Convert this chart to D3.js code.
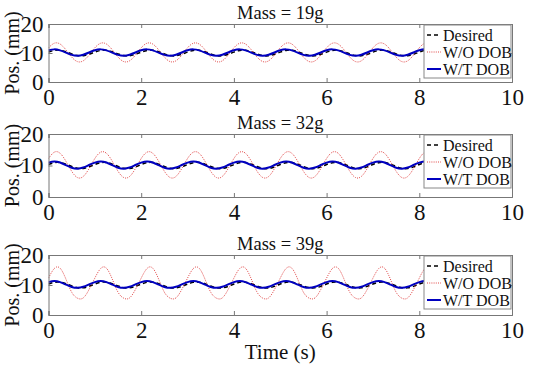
<!DOCTYPE html>
<html><head><meta charset="utf-8">
<script src="https://cdn.jsdelivr.net/npm/d3@7"></script>
<style>body{margin:0;background:#fff}svg{display:block}</style>
</head><body>
<svg id="c" width="533" height="368" font-family="Liberation Serif"></svg>
<script>
// ---- data (0.125 s sampling) ----
const titles = ["Mass = 19g", "Mass = 32g", "Mass = 39g"];
const seriesNames = ["Desired", "W/O DOB", "W/T DOB"];
const xTicks = [0, 2, 4, 6, 8, 10];
const yTicks = [0, 10, 20];
const timeStep = 0.125;

const desired = [10.31,10.89,10.95,10.45,9.69,9.11,9.05,9.55, 10.31,10.89,10.95,10.45,9.69,9.11,9.05,9.55, 10.31,10.89,10.95,10.45,9.69,9.11,9.05,9.55, 10.31,10.89,10.95,10.45,9.69,9.11,9.05,9.55, 10.31,10.89,10.95,10.45,9.69,9.11,9.05,9.55, 10.31,10.89,10.95,10.45,9.69,9.11,9.05,9.55, 10.31,10.89,10.95,10.45,9.69,9.11,9.05,9.55, 10.31,10.89,10.95,10.45,9.69,9.11,9.05,9.55, 10.31,10.89,10.95];

const woDob19 = [11.79,13.37,13.09,11.12,8.61,7.03,7.31,9.28, 11.79,13.37,13.09,11.12,8.61,7.03,7.31,9.28, 11.79,13.37,13.09,11.12,8.61,7.03,7.31,9.28, 11.79,13.37,13.09,11.12,8.61,7.03,7.31,9.28, 11.79,13.37,13.09,11.12,8.61,7.03,7.31,9.28, 11.79,13.37,13.09,11.12,8.61,7.03,7.31,9.28, 11.79,13.37,13.09,11.12,8.61,7.03,7.31,9.28, 11.79,13.37,13.09,11.12,8.61,7.03,7.31,9.28, 11.79,13.37,13.09];
const wtDob19 = [10.95,11.25,10.90,10.12,9.35,9.05,9.40,10.18, 10.95,11.25,10.90,10.12,9.35,9.05,9.40,10.18, 10.95,11.25,10.90,10.12,9.35,9.05,9.40,10.18, 10.95,11.25,10.90,10.12,9.35,9.05,9.40,10.18, 10.95,11.25,10.90,10.12,9.35,9.05,9.40,10.18, 10.95,11.25,10.90,10.12,9.35,9.05,9.40,10.18, 10.95,11.25,10.90,10.12,9.35,9.05,9.40,10.18, 10.95,11.25,10.90,10.12,9.35,9.05,9.40,10.18, 10.95,11.25,10.90];

const woDob32 = [12.22,14.23,13.88,11.37,8.18,6.17,6.52,9.03, 12.22,14.23,13.88,11.37,8.18,6.17,6.52,9.03, 12.22,14.23,13.88,11.37,8.18,6.17,6.52,9.03, 12.22,14.23,13.88,11.37,8.18,6.17,6.52,9.03, 12.22,14.23,13.88,11.37,8.18,6.17,6.52,9.03, 12.22,14.23,13.88,11.37,8.18,6.17,6.52,9.03, 12.22,14.23,13.88,11.37,8.18,6.17,6.52,9.03, 12.22,14.23,13.88,11.37,8.18,6.17,6.52,9.03, 12.22,14.23,13.88];
const wtDob32 = [10.90,11.30,10.95,10.10,9.30,9.00,9.35,10.15, 10.90,11.30,10.95,10.10,9.30,9.00,9.35,10.15, 10.90,11.30,10.95,10.10,9.30,9.00,9.35,10.15, 10.90,11.30,10.95,10.10,9.30,9.00,9.35,10.15, 10.90,11.30,10.95,10.10,9.30,9.00,9.35,10.15, 10.90,11.30,10.95,10.10,9.30,9.00,9.35,10.15, 10.90,11.30,10.95,10.10,9.30,9.00,9.35,10.15, 10.90,11.30,10.95,10.10,9.30,9.00,9.35,10.15, 10.90,11.30,10.95];

const woDob39 = [12.3,15.5,15.6,12.0,7.6,5.6,5.7,8.5, 12.3,15.5,15.6,12.0,7.6,5.6,5.7,8.5, 12.3,15.5,15.6,12.0,7.6,5.6,5.7,8.5, 12.3,15.5,15.6,12.0,7.6,5.6,5.7,8.5, 12.3,15.5,15.6,12.0,7.6,5.6,5.7,8.5, 12.3,15.5,15.6,12.0,7.6,5.6,5.7,8.5, 12.3,15.5,15.6,12.0,7.6,5.6,5.7,8.5, 12.3,15.5,15.6,12.0,7.6,5.6,5.7,8.5, 12.3,15.5,15.6];
const wtDob39 = [10.95,11.30,10.95,10.15,9.35,9.05,9.40,10.20, 10.95,11.30,10.95,10.15,9.35,9.05,9.40,10.20, 10.95,11.30,10.95,10.15,9.35,9.05,9.40,10.20, 10.95,11.30,10.95,10.15,9.35,9.05,9.40,10.20, 10.95,11.30,10.95,10.15,9.35,9.05,9.40,10.20, 10.95,11.30,10.95,10.15,9.35,9.05,9.40,10.20, 10.95,11.30,10.95,10.15,9.35,9.05,9.40,10.20, 10.95,11.30,10.95,10.15,9.35,9.05,9.40,10.20, 10.95,11.30,10.95];

const panels = [
  {title: titles[0], wo: woDob19, wt: wtDob19},
  {title: titles[1], wo: woDob32, wt: wtDob32},
  {title: titles[2], wo: woDob39, wt: wtDob39}
];

// ---- layout ----
const svg = d3.select("#c");
const FONT = "Liberation Serif";
const left = 48.5, right = 512;
const boxes = [[24, 82], [134, 197], [255, 315]];
const x = d3.scaleLinear().domain([0, 10]).range([left, right]);
const colors = {des: "#000000", wo: "#e04848", wt: "#0000c0"};

panels.forEach((p, i) => {
  const [top, bottom] = boxes[i];
  const y = d3.scaleLinear().domain([0, 20]).range([bottom, top]);
  const g = svg.append("g");
  const clipId = "clip" + i;
  svg.append("clipPath").attr("id", clipId).append("rect")
    .attr("x", left).attr("y", top).attr("width", right - left).attr("height", bottom - top);

  const line = d3.line().x((d, k) => x(k * timeStep)).y(d => y(d)).curve(d3.curveNatural);
  const lines = g.append("g").attr("clip-path", `url(#${clipId})`);
  lines.append("path").datum(desired).attr("d", line).attr("fill", "none")
    .attr("stroke", colors.des).attr("stroke-width", 1.5).attr("stroke-dasharray", "4,3");
  lines.append("path").datum(p.wo).attr("d", line).attr("fill", "none")
    .attr("stroke", colors.wo).attr("stroke-width", 1).attr("stroke-dasharray", "1,1.2");
  lines.append("path").datum(p.wt).attr("d", line).attr("fill", "none")
    .attr("stroke", colors.wt).attr("stroke-width", 2);

  // axes (box, inward ticks)
  const axColor = "#777";
  const xb = g.append("g").attr("transform", `translate(0,${bottom})`)
    .call(d3.axisBottom(x).tickValues(xTicks).tickSize(-4).tickPadding(7).tickFormat(d3.format("d")));
  const xt = g.append("g").attr("transform", `translate(0,${top})`)
    .call(d3.axisTop(x).tickValues(xTicks).tickSize(-4).tickFormat(""));
  const yl = g.append("g").attr("transform", `translate(${left},0)`)
    .call(d3.axisLeft(y).tickValues(yTicks).tickSize(-4).tickPadding(5));
  const yr = g.append("g").attr("transform", `translate(${right},0)`)
    .call(d3.axisRight(y).tickValues(yTicks).tickSize(-4).tickFormat(""));
  [xb, xt, yl, yr].forEach(a => {
    a.attr("font-family", FONT);
    a.select(".domain").attr("stroke", axColor);
    a.selectAll(".tick line").attr("stroke", axColor);
    a.selectAll("text").attr("font-family", FONT).attr("font-size", 23).attr("fill", "#111");
  });

  // title
  g.append("text").attr("x", (left + right) / 2).attr("y", top - 5)
    .attr("text-anchor", "middle").attr("font-family", FONT).attr("font-size", 18.5)
    .attr("fill", "#111").text(p.title);

  // y label
  g.append("text").attr("transform", `translate(19,${(top + bottom) / 2}) rotate(-90)`)
    .attr("text-anchor", "middle").attr("font-family", FONT).attr("font-size", 20)
    .attr("fill", "#111").text("Pos. (mm)");

  // legend
  const lx = 424, ly = top + 1, lw = right - lx - 1, lh = 53;
  const lg = g.append("g");
  lg.append("rect").attr("x", lx).attr("y", ly).attr("width", lw).attr("height", lh)
    .attr("fill", "#fff").attr("stroke", "#888").attr("stroke-width", 1);
  const legStyles = [
    {c: colors.des, w: 1.5, da: "4,3"},
    {c: colors.wo, w: 1, da: "1,1.2"},
    {c: colors.wt, w: 2, da: null}
  ];
  seriesNames.forEach((name, k) => {
    const yy = ly + 10 + k * 17;
    const s = legStyles[k];
    const ln = lg.append("line").attr("x1", lx + 3).attr("x2", lx + 17).attr("y1", yy).attr("y2", yy)
      .attr("stroke", s.c).attr("stroke-width", s.w);
    if (s.da) ln.attr("stroke-dasharray", s.da);
    lg.append("text").attr("x", lx + 19).attr("y", yy).attr("dy", "0.35em")
      .attr("font-family", FONT).attr("font-size", 16).attr("fill", "#111").text(name);
  });
});

// x label
svg.append("text").attr("x", (left + right) / 2).attr("y", 359)
  .attr("text-anchor", "middle").attr("font-family", FONT).attr("font-size", 21)
  .attr("fill", "#111").text("Time (s)");
</script>
</body></html>
